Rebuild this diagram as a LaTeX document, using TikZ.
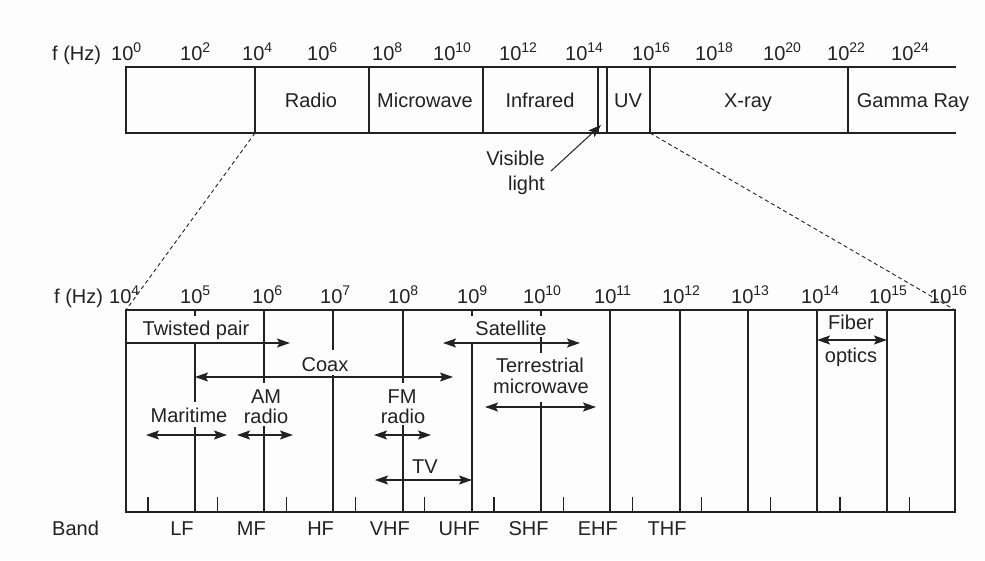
\documentclass[tikz,border=0pt]{standalone}
\usepackage{fontspec}
\setmainfont{Liberation Sans}
\usetikzlibrary{arrows.meta}
\definecolor{ink}{HTML}{222222}
\definecolor{bgc}{HTML}{FDFDFD}
\newcommand\pw[1]{10\raisebox{7.5pt}{\fontsize{14}{14}\selectfont #1}}
\begin{document}
\begin{tikzpicture}[x=1pt,y=-1pt,
  every node/.style={font=\fontsize{20}{23}\selectfont, text=ink, inner sep=0pt},
  ln/.style={draw=ink, line width=1.3pt},
  tk/.style={draw=ink, line width=1.3pt},
  dsh/.style={draw=ink, line width=0.9pt, dash pattern=on 4pt off 3pt},
  bi/.style={draw=ink, line width=1.2pt, {Stealth[length=13pt,width=9pt,inset=2.5pt]}-{Stealth[length=13pt,width=9pt,inset=2.5pt]}},
  oneway/.style={draw=ink, line width=1.2pt, -{Stealth[length=13pt,width=9pt,inset=2.5pt]}},
  lbl/.style={anchor=base},
  pwl/.style={anchor=base west}]
\fill[bgc] (0,0) rectangle (985,560);
\useasboundingbox (0,0) rectangle (985,560);

% ---------------- top spectrum ----------------
\node[pwl] (fhz1) at (52,60) {f (Hz)};
\foreach \x/\e [count=\i] in {111/0,180/2,242/4,307/6,372/8,433/10,499/12,565/14,632/16,695/18,763/20,827/22,891/24}
  \node[pwl] (tp\i) at (\x,60) {\pw{\e}};

\coordinate (TL) at (126,67);
\coordinate (BL) at (126,133);
\coordinate (TR) at (956,67);
\coordinate (BR) at (956,133);
\draw[ln] (TR) -- (TL) -- (BL) -- (BR);
\foreach \x in {255,369,483,598,607,650,848}
  \draw[ln] (\x,67) -- (\x,133);
\coordinate (radA) at (255,133);
\coordinate (uvB) at (650,133);

\node[lbl] (radio) at (311,107) {Radio};
\node[lbl] (micro) at (425,107) {Microwave};
\node[lbl] (infra) at (540,107) {Infrared};
\node[lbl] (uv) at (628,107) {UV};
\node[lbl] (xray) at (748,107) {X-ray};
\node[lbl] (gamma) at (913,107) {Gamma Ray};

\node[anchor=base east] (vis1) at (545,165) {Visible};
\node[anchor=base east] (vis2) at (545,190) {light};
\coordinate (visT) at (551,171);
\coordinate (visH) at (601,125);
\draw[draw=ink, line width=1pt, -{Stealth[length=13pt,width=9pt,inset=2.5pt]}] (visT) -- (visH);

% ---------------- bottom spectrum ----------------
\coordinate (bTL) at (126,310);
\coordinate (bBL) at (126,512);
\coordinate (bTR) at (955,310);
\coordinate (bBR) at (955,512);
\draw[ln] (bTL) rectangle (bBR);

\draw[dsh] (radA) -- (bTL);
\draw[dsh] (uvB) -- (bTR);

\node[pwl] (fhz2) at (54,303) {f (Hz)};
\foreach \x/\e [count=\i] in {109/4,180/5,252/6,320/7,388/8,457/9,523/10,594/11,662/12,731/13,801/14,869/15,929/16}
  \node[pwl] (bp\i) at (\x,303) {\pw{\e}};

% decade lines (interrupted by labels)
\draw[ln] (195,310) -- (195,316);
\draw[ln] (195,343) -- (195,402);
\draw[ln] (195,427) -- (195,512);
\draw[ln] (264,310) -- (264,383);
\draw[ln] (264,426) -- (264,512);
\draw[ln] (333,310) -- (333,350);
\draw[ln] (333,375) -- (333,512);
\draw[ln] (403,310) -- (403,383);
\draw[ln] (403,425) -- (403,512);
\draw[ln] (472,310) -- (472,316);
\draw[ln] (472,342) -- (472,512);
\draw[ln] (541,310) -- (541,316);
\draw[ln] (541,337) -- (541,353);
\draw[ln] (541,402) -- (541,512);
\foreach \x in {610,680,748,817,887}
  \draw[ln] (\x,310) -- (\x,512);

% small ticks
\foreach \k in {0,...,11}
  \draw[tk] ({148+69.2*\k},497) -- ({148+69.2*\k},512);

% band labels
\node[pwl] (band) at (52,535) {Band};
\foreach \b [count=\k from 0] in {LF,MF,HF,VHF,UHF,SHF,EHF,THF}
  \node[lbl] (band\b) at ({182+69.3*\k},535) {\b};

% media labels
\node[lbl] (twp) at (196,335) {Twisted pair};
\node[lbl] (coax) at (325,371) {Coax};
\node[lbl] (sat) at (511,335) {Satellite};
\node[lbl] (ter1) at (540,372) {Terrestrial};
\node[lbl] (ter2) at (541,393) {microwave};
\node[lbl] (mar) at (189,422) {Maritime};
\node[lbl] (am1) at (266,403) {AM};
\node[lbl] (am2) at (266,423) {radio};
\node[lbl] (fm1) at (402,403) {FM};
\node[lbl] (fm2) at (403,423) {radio};
\node[lbl] (tv) at (425,473) {TV};
\node[lbl] (fib1) at (851,329) {Fiber};
\node[lbl] (fib2) at (851,362) {optics};

% arrows
\coordinate (twpA) at (126,343);  \coordinate (twpB) at (290,343);
\coordinate (coaxA) at (195,377); \coordinate (coaxB) at (453,377);
\coordinate (satA) at (443,343);  \coordinate (satB) at (580,343);
\coordinate (terA) at (485,407);  \coordinate (terB) at (596,407);
\coordinate (marA) at (146,435);  \coordinate (marB) at (227,435);
\coordinate (amA) at (237,435);   \coordinate (amB) at (293,435);
\coordinate (fmA) at (374,435);   \coordinate (fmB) at (431,435);
\coordinate (tvA) at (375,480);   \coordinate (tvB) at (472,480);
\coordinate (fibA) at (817,340);  \coordinate (fibB) at (887,340);
\draw[oneway] (twpA) -- (twpB);
\draw[bi] (coaxA) -- (coaxB);
\draw[bi] (satA) -- (satB);
\draw[bi] (terA) -- (terB);
\draw[bi] (marA) -- (marB);
\draw[bi] (amA) -- (amB);
\draw[bi] (fmA) -- (fmB);
\draw[bi] (tvA) -- (tvB);
\draw[bi] (fibA) -- (fibB);
\end{tikzpicture}
\end{document}
